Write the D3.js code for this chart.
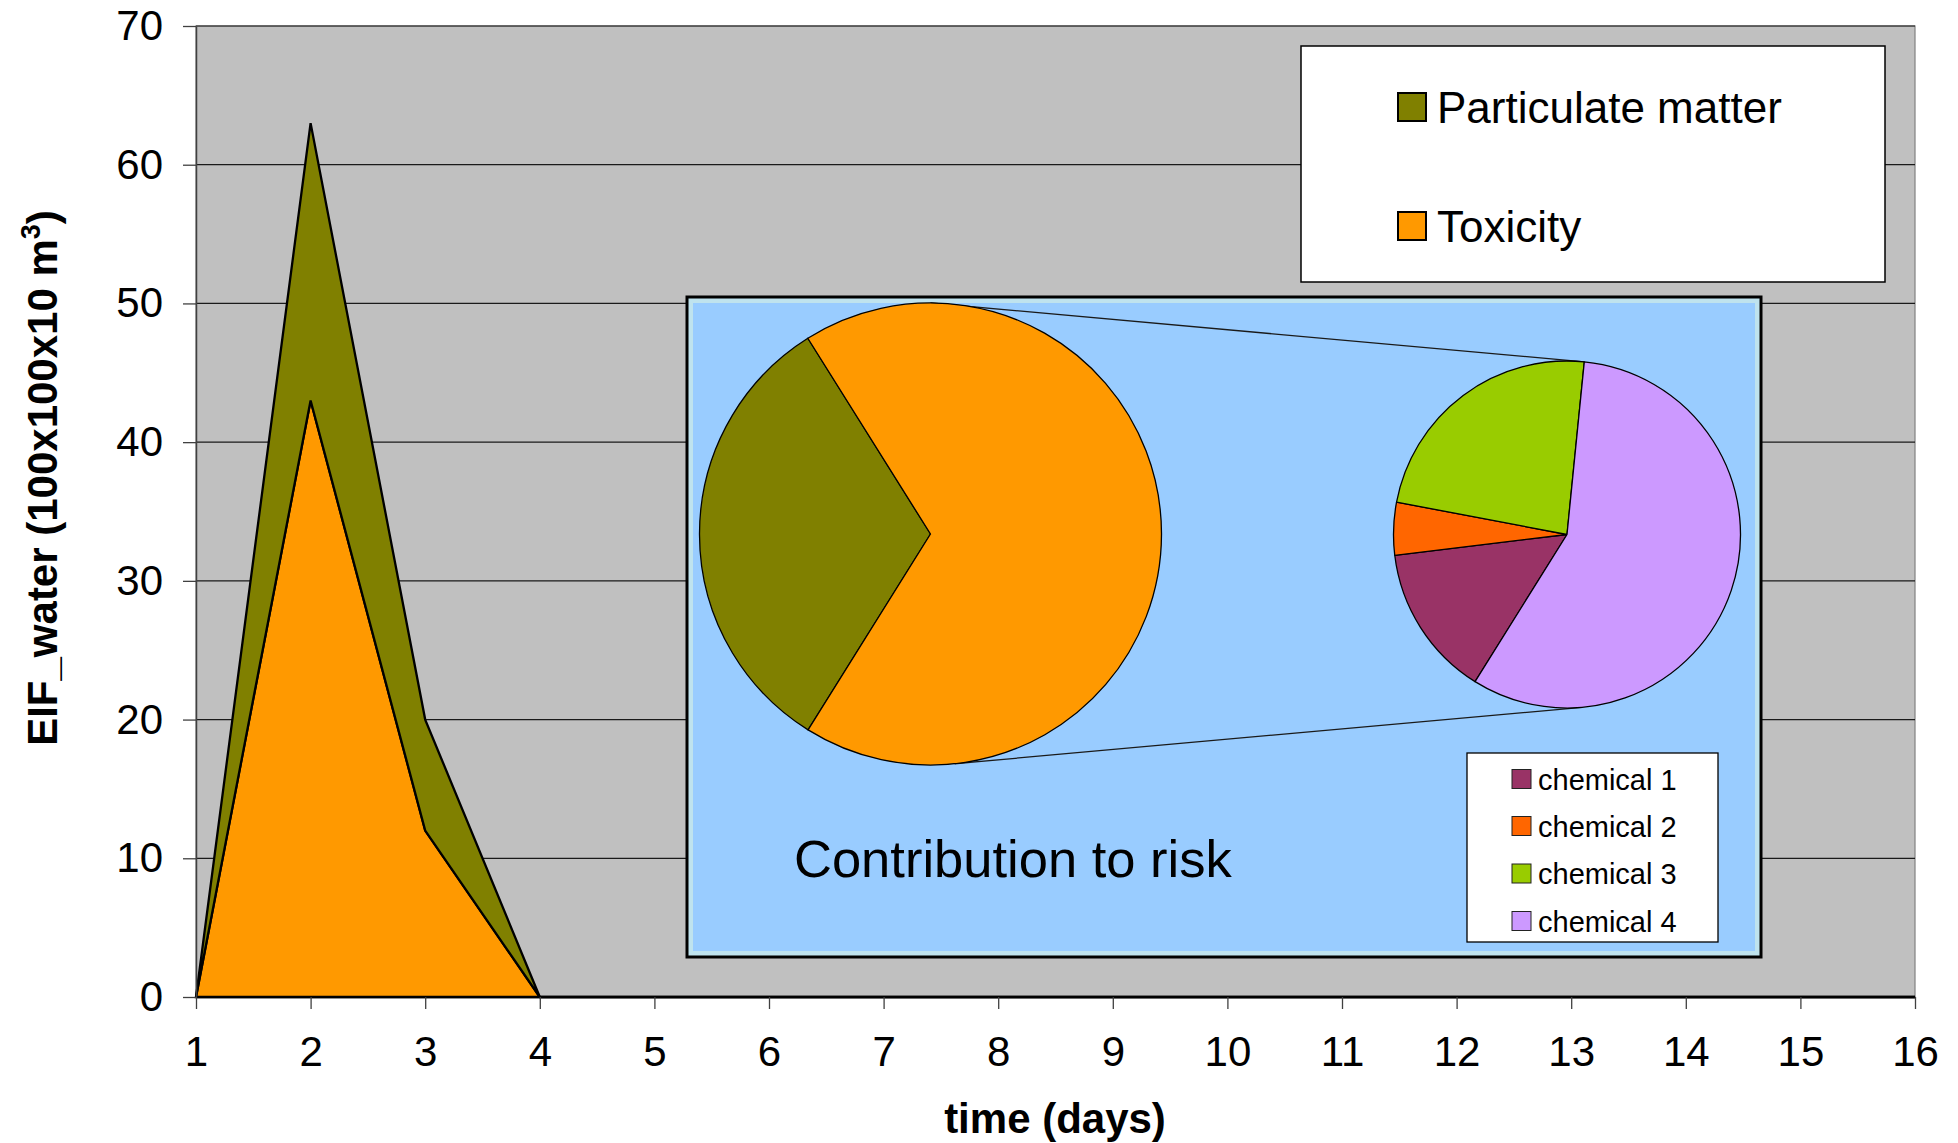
<!DOCTYPE html>
<html>
<head>
<meta charset="utf-8">
<script src="https://cdn.jsdelivr.net/npm/d3@7"></script>
<style>
  body { margin: 0; background: #ffffff; }
  svg { display: block; }
  text { font-family: "Liberation Sans", Arial, Helvetica, sans-serif; fill: #000; }
</style>
</head>
<body>
<svg id="chart" width="1958" height="1143"></svg>
<script>
// ---- data ----
const days = [1, 2, 3, 4, 5, 6, 7, 8, 9, 10, 11, 12, 13, 14, 15, 16];
const toxicity = [0, 43, 12, 0, 0, 0, 0, 0, 0, 0, 0, 0, 0, 0, 0, 0];
const particulate = [0, 20, 8, 0, 0, 0, 0, 0, 0, 0, 0, 0, 0, 0, 0, 0];
const yTickValues = [0, 10, 20, 30, 40, 50, 60, 70];
const seriesNames = ["Particulate matter", "Toxicity"];
const riskShares = [32.2, 67.8];              // particulate matter, toxicity (%)
const chemicalNames = ["chemical 1", "chemical 2", "chemical 3", "chemical 4"];
const chemicalShares = [14.2, 4.9, 23.6, 57.3]; // share of toxicity (%)

// ---- colours ----
const colParticulate = "#808000";
const colToxicity = "#FF9900";
const chemicalColors = ["#993366", "#FF6600", "#99CC00", "#CC99FF"];

const svg = d3.select("#chart");
const font = '"Liberation Sans", Arial, Helvetica, sans-serif';

// ---- plot frame ----
const plot = { left: 196, right: 1915, top: 26, bottom: 997 };
const x = d3.scaleLinear().domain([1, 16]).range([plot.left, plot.right]);
const y = d3.scaleLinear().domain([0, 70]).range([plot.bottom, plot.top]);

svg.append("rect")
  .attr("x", plot.left).attr("y", plot.top)
  .attr("width", plot.right - plot.left).attr("height", plot.bottom - plot.top)
  .attr("fill", "#C0C0C0").attr("stroke", "#808080").attr("stroke-width", 1.2);

// horizontal gridlines
svg.append("g").selectAll("line")
  .data(yTickValues.filter(v => v > 0))
  .join("line")
  .attr("x1", plot.left).attr("x2", plot.right)
  .attr("y1", d => y(d)).attr("y2", d => y(d))
  .attr("stroke", "#1a1a1a").attr("stroke-width", 1.2);

// ---- stacked areas ----
const rows = days.map((d, i) => ({ day: d, toxicity: toxicity[i], particulate: particulate[i] }));
const stack = d3.stack().keys(["toxicity", "particulate"]);
const layers = stack(rows);
const area = d3.area()
  .x(d => x(d.data.day))
  .y0(d => y(d[0]))
  .y1(d => y(d[1]));
const layerColors = { toxicity: colToxicity, particulate: colParticulate };

svg.append("g").selectAll("path")
  .data(layers)
  .join("path")
  .attr("d", area)
  .attr("fill", d => layerColors[d.key])
  .attr("stroke", "#000")
  .attr("stroke-width", 2.3)
  .attr("stroke-linejoin", "miter");

// ---- axes ----
const yAxis = svg.append("g")
  .attr("transform", `translate(${plot.left},0)`)
  .call(d3.axisLeft(y).tickValues(yTickValues).tickSize(13).tickPadding(20).tickSizeOuter(0));
yAxis.select(".domain").attr("stroke", "#404040").attr("stroke-width", 1.5);
yAxis.selectAll(".tick line").attr("stroke", "#404040").attr("stroke-width", 1.3);
yAxis.selectAll(".tick text").attr("font-size", 42).attr("font-family", font);

const xAxis = svg.append("g")
  .attr("transform", `translate(0,${plot.bottom})`)
  .call(d3.axisBottom(x).tickValues(days).tickFormat(d3.format("d")).tickSize(12).tickPadding(27.5).tickSizeOuter(0));
xAxis.select(".domain").attr("stroke", "#000").attr("stroke-width", 1.5);
xAxis.selectAll(".tick line").attr("stroke", "#404040").attr("stroke-width", 1.3);
xAxis.selectAll(".tick text").attr("font-size", 42).attr("font-family", font);

// axis titles
svg.append("text")
  .attr("x", 1055).attr("y", 1133)
  .attr("text-anchor", "middle")
  .attr("font-size", 42).attr("font-weight", "bold")
  .text("time (days)");

const yTitle = svg.append("text")
  .attr("transform", "translate(57,478) rotate(-90)")
  .attr("text-anchor", "middle")
  .attr("font-size", 42).attr("font-weight", "bold");
yTitle.append("tspan").text("EIF_water (100x100x10 m");
yTitle.append("tspan").attr("font-size", 27).attr("dy", -17).text("3");
yTitle.append("tspan").attr("dy", 17).text(")");

// ---- series legend ----
svg.append("rect")
  .attr("x", 1301).attr("y", 46).attr("width", 584).attr("height", 236)
  .attr("fill", "#fff").attr("stroke", "#000").attr("stroke-width", 1.5);

const legendRowsY = [107, 226];
const legendColors = [colParticulate, colToxicity];
const legend = svg.append("g").selectAll("g")
  .data(seriesNames)
  .join("g")
  .attr("transform", (d, i) => `translate(1398,${legendRowsY[i]})`);
legend.append("rect")
  .attr("x", 0).attr("y", -14).attr("width", 28).attr("height", 28)
  .attr("fill", (d, i) => legendColors[i]).attr("stroke", "#000").attr("stroke-width", 2);
legend.append("text")
  .attr("x", 39).attr("y", 16)
  .attr("font-size", 44)
  .text(d => d);

// ---- contribution inset ----
const inset = { x: 687, y: 297, w: 1074, h: 660 };
svg.append("rect")
  .attr("x", inset.x).attr("y", inset.y).attr("width", inset.w).attr("height", inset.h)
  .attr("fill", "#BFE3EE").attr("stroke", "#000").attr("stroke-width", 3);
svg.append("rect")
  .attr("x", inset.x + 6).attr("y", inset.y + 6).attr("width", inset.w - 12).attr("height", inset.h - 12)
  .attr("fill", "#99CCFF");

const deg = Math.PI / 180;
const bigPie = { cx: 930.5, cy: 534, r: 231 };
const smallPie = { cx: 1567, cy: 534.5, r: 173.5 };
const pieStart = 212 * deg;

const pointOn = (p, a) => [p.cx + p.r * Math.sin(a), p.cy - p.r * Math.cos(a)];

// connector lines from the toxicity slice to its breakdown
const connectors = [[0, 5.7], [174, 175]];
svg.append("g").selectAll("line")
  .data(connectors)
  .join("line")
  .attr("x1", d => pointOn(bigPie, d[0] * deg)[0])
  .attr("y1", d => pointOn(bigPie, d[0] * deg)[1])
  .attr("x2", d => pointOn(smallPie, d[1] * deg)[0])
  .attr("y2", d => pointOn(smallPie, d[1] * deg)[1])
  .attr("stroke", "#1a1a1a").attr("stroke-width", 1.3);

const pieGen = d3.pie().sort(null).startAngle(pieStart).endAngle(pieStart + 2 * Math.PI);

svg.append("g")
  .attr("transform", `translate(${bigPie.cx},${bigPie.cy})`)
  .selectAll("path")
  .data(pieGen(riskShares))
  .join("path")
  .attr("d", d3.arc().innerRadius(0).outerRadius(bigPie.r))
  .attr("fill", (d, i) => legendColors[i])
  .attr("stroke", "#000").attr("stroke-width", 1.3).attr("stroke-linejoin", "round");

svg.append("g")
  .attr("transform", `translate(${smallPie.cx},${smallPie.cy})`)
  .selectAll("path")
  .data(pieGen(chemicalShares))
  .join("path")
  .attr("d", d3.arc().innerRadius(0).outerRadius(smallPie.r))
  .attr("fill", (d, i) => chemicalColors[i])
  .attr("stroke", "#000").attr("stroke-width", 1.3).attr("stroke-linejoin", "round");

svg.append("text")
  .attr("x", 794).attr("y", 877)
  .attr("font-size", 52.5)
  .text("Contribution to risk");

// chemical legend
svg.append("rect")
  .attr("x", 1467).attr("y", 753).attr("width", 251).attr("height", 189)
  .attr("fill", "#fff").attr("stroke", "#000").attr("stroke-width", 1.3);
const chemRowsY = [779, 826, 873.5, 921];
const chemLegend = svg.append("g").selectAll("g")
  .data(chemicalNames)
  .join("g")
  .attr("transform", (d, i) => `translate(1512,${chemRowsY[i]})`);
chemLegend.append("rect")
  .attr("x", 0).attr("y", -9.5).attr("width", 19).attr("height", 19)
  .attr("fill", (d, i) => chemicalColors[i]).attr("stroke", "#222").attr("stroke-width", 1);
chemLegend.append("text")
  .attr("x", 26).attr("y", 10.5)
  .attr("font-size", 29)
  .text(d => d);
</script>
</body>
</html>
